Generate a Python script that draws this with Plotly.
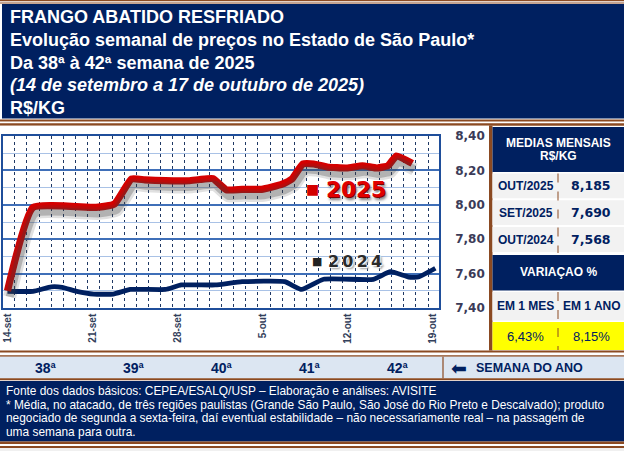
import plotly.graph_objects as go

W, H = 624, 451

# --- data ---
DAYS_2025 = [0, 2.1, 7.3, 8.8, 10.2, 11.3, 13, 14.9, 15.8, 16.9, 18.0, 19.3, 20.9,
             22.6, 23.4, 24.3, 25.2, 26.3, 27.9, 29.2, 30.4, 31.3, 32.0, 33.3]
PRICE_2025 = [7.50, 7.985, 7.985, 8.005, 8.15, 8.145, 8.14, 8.14, 8.147, 8.152, 8.087,
              8.09, 8.09, 8.12, 8.15, 8.237, 8.237, 8.22, 8.214, 8.227, 8.214, 8.227,
              8.284, 8.241]

DAYS_2024 = [0, 2.1, 3.6, 4.5, 5.7, 7.1, 8.7, 10.1, 13, 14.3, 17.1, 19.3, 22.8, 24.2,
             26.0, 30.1, 31.5, 33.0, 33.8, 35.2]
PRICE_2024 = [7.497, 7.497, 7.523, 7.52, 7.497, 7.481, 7.481, 7.508, 7.508, 7.534,
              7.534, 7.553, 7.553, 7.508, 7.567, 7.567, 7.611, 7.58, 7.58, 7.631]

DATE_TICKS = [0, 7, 14, 21, 28, 35]
DATE_LABELS = ["14-set", "21-set", "28-set", "5-out", "12-out", "19-out"]

WEEKS = [38, 39, 40, 41, 42]

MONTH_LABELS = ["OUT/2025", "SET/2025", "OUT/2024"]
MONTH_AVG = [8.185, 7.690, 7.568]
VAR_LABELS = ["EM 1 MES", "EM 1 ANO"]
VAR_PCT = [6.43, 8.15]

HEADER = [
    "<b>FRANGO ABATIDO RESFRIADO</b>",
    "<b>Evolução semanal de preços no Estado de São Paulo*</b>",
    "<b>Da 38ª à 42ª semana de 2025</b>",
    "<b><i>(14 de setembro a 17 de outubro de 2025)</i></b>",
    "<b>R$/KG</b>",
]
FOOTER = [
    "Fonte dos dados básicos: CEPEA/ESALQ/USP – Elaboração e análises: AVISITE",
    "* Média, no atacado, de três regiões paulistas (Grande São Paulo, São José do Rio Preto e Descalvado); produto",
    "negociado de segunda a sexta-feira, daí eventual estabilidade – não necessariamente real – na passagem de",
    "uma semana para outra.",
]

NAVY = "#002060"
BROWN = "#8B4A22"
GRAY_CELL = "#F2F2F2"
BAND = "#DCE6F2"
RED = "#D40000"
ARIAL = "Liberation Sans, Arial, sans-serif"
VERD = "DejaVu Sans, Verdana, sans-serif"

XR = [-0.37, 35.5]
YR = [7.40, 8.40]
SX, SY = 0.18, 0.035  # shadow offset (axis shift)


def px(x):
    return x / W


def py(y):
    return 1 - y / H


fig = go.Figure()


def rect(x0, y0, x1, y1, color):
    fig.add_shape(type="rect", xref="paper", yref="paper",
                  x0=px(x0), x1=px(x1), y0=py(y1), y1=py(y0),
                  fillcolor=color, line_width=0, layer="below")


def vline(x, y0, y1, color, width=1, dash="solid"):
    fig.add_shape(type="line", xref="paper", yref="paper",
                  x0=px(x), x1=px(x), y0=py(y0), y1=py(y1),
                  line=dict(color=color, width=width, dash=dash))


def text(x, y, s, size, color, family=ARIAL, anchor="center", shadow=None):
    font = dict(size=size, color=color, family=family)
    if shadow:
        font["shadow"] = shadow
    fig.add_annotation(x=px(x), y=py(y), xref="paper", yref="paper", text=s,
                       showarrow=False, xanchor=anchor, yanchor="middle",
                       font=font)


# --- frame pieces ---
rect(0, 0, W, 1.2, BROWN)
rect(0, 2.4, W, 3.6, BROWN)
rect(2, 4, W, 118.5, NAVY)
rect(0, 119.5, W, 121.5, BROWN)
rect(0, 123.2, W, 125.7, BROWN)
rect(0, 125.7, 489, 350.5, "white")

# right table
rect(489, 125.7, 492.5, 350.5, BROWN)
rect(492.5, 127, W, 172, NAVY)
for i in range(3):
    rect(492.5, 173.5 + i * 26.8, W, 172 + (i + 1) * 26.8 - 0.5, GRAY_CELL)
rect(492.5, 255, W, 290.5, NAVY)
rect(492.5, 292, W, 320.5, GRAY_CELL)
rect(492.5, 322, W, 350, "#FFFF00")
vline(558, 173.5, 253, BROWN, 1, "dash")
vline(558, 292, 350, BROWN, 1, "dash")

# lower band and footer
rect(0, 350.5, W, 352.5, BROWN)
rect(0, 355.3, W, 356.8, BROWN)
rect(0, 356.8, W, 378.3, BAND)
rect(0, 378.3, W, 380.3, BROWN)
rect(0, 381, W, 441.5, NAVY)
rect(0, 441.5, W, 444, BROWN)
rect(0, 446, W, 448, BROWN)
rect(0, 448, W, H, "#F0F0F0")
vline(443, 356.8, 378.3, BROWN, 1.2)

# --- header text ---
for i, line in enumerate(HEADER):
    text(8, 17 + i * 22.8, line, 18, "white", anchor="left")

# --- table text ---
text(558, 143, "<b>MEDIAS MENSAIS</b>", 12, "white")
text(558, 156, "<b>R$/KG</b>", 12, "white")
for i, (lab, val) in enumerate(zip(MONTH_LABELS, MONTH_AVG)):
    yc = 186 + i * 26.8
    text(525.5, yc, f"<b>{lab}</b>", 12, NAVY)
    text(591, yc, f"<b>{val:.3f}</b>".replace(".", ","), 12.5, NAVY, family=VERD)
text(558, 272, "<b>VARIAÇAO %</b>", 12, "white")
for i, (lab, val) in enumerate(zip(VAR_LABELS, VAR_PCT)):
    xc = 525.5 + i * 66
    text(xc, 306, f"<b>{lab}</b>", 12, NAVY)
    text(xc, 336, f"{val:.2f}%".replace(".", ","), 13, NAVY)

# --- week band ---
for i, wk in enumerate(WEEKS):
    text(46 + i * 88, 368, f"<b>{wk}ª</b>", 14, NAVY)
text(449, 367.5, "⬅", 19, NAVY, family=VERD, anchor="left")
text(474, 368, "<b>SEMANA DO ANO</b>", 12.5, NAVY, anchor="left")

# --- footer ---
for i, line in enumerate(FOOTER):
    text(4, 391 + i * 13.6, line, 11.9, "white", anchor="left")

# --- chart lines ---
fig.add_trace(go.Scatter(x=DAYS_2025, y=PRICE_2025, xaxis="x2", yaxis="y2", mode="lines",
                         line=dict(color="rgba(60,60,60,0.16)", width=13, shape="spline", smoothing=0.4),
                         hoverinfo="skip", showlegend=False))
fig.add_trace(go.Scatter(x=DAYS_2025, y=PRICE_2025, xaxis="x2", yaxis="y2", mode="lines",
                         line=dict(color="rgba(60,60,60,0.28)", width=8, shape="spline", smoothing=0.4),
                         hoverinfo="skip", showlegend=False))
fig.add_trace(go.Scatter(x=DAYS_2024, y=PRICE_2024, mode="lines", name="2024",
                         line=dict(color=NAVY, width=4.8, shape="spline", smoothing=0.4),
                         showlegend=False))
fig.add_trace(go.Scatter(x=DAYS_2025, y=PRICE_2025, mode="lines", name="2025",
                         line=dict(color=RED, width=7.2, shape="spline", smoothing=0.4),
                         showlegend=False))

# series labels
text(312.5, 189, "■", 14, RED, family=VERD)
text(355.5, 189, "<b>2025</b>", 21.5, "#E00000", family=VERD,
     shadow="1px 1px 0 #7a0000, -1px -1px 0 #ffffff, 2px 3px 3px #777777")
text(317, 261, "■", 11, "#222222", family=VERD)
text(354.5, 261, "<b>2\u20090\u20092\u20094</b>", 16, "#2b2b2b", family=VERD,
     shadow="1px 1px 1px #ffffff, 2px 2px 2px #999999")

fig.update_layout(
    width=W, height=H,
    margin=dict(l=0, r=0, t=0, b=0),
    paper_bgcolor="white", plot_bgcolor="white",
    separators=",.",
    showlegend=False,
    xaxis=dict(domain=[px(3), px(439)], range=XR, tickvals=DATE_TICKS, ticktext=DATE_LABELS,
               tickangle=-90, showgrid=False, zeroline=False, ticks="",
               tickfont=dict(family=ARIAL, size=10, color="#33405A", weight="bold"),
               showline=True, mirror=True, linecolor="#1F4E9A", linewidth=1.5,
               minor=dict(tick0=0.6, dtick=1, showgrid=True, gridcolor="#1F3864",
                          gridwidth=1, griddash="dot"),
               automargin=False, fixedrange=True),
    yaxis=dict(domain=[py(308), py(136)], range=YR, side="right", tick0=7.4, dtick=0.2,
               tickformat=".2f", showgrid=True, gridcolor="#3F6FB8", gridwidth=1.5,
               zeroline=False, ticks="", ticklabelstandoff=12,
               tickfont=dict(family=VERD, size=12, color="#3B3B58", weight="bold"),
               showline=True, mirror=True, linecolor="#1F4E9A", linewidth=1.5,
               minor=dict(dtick=0.1, showgrid=True, gridcolor="#A9C2E6", gridwidth=1),
               automargin=False, fixedrange=True),
    xaxis2=dict(overlaying="x", range=[XR[0] - SX, XR[1] - SX], visible=False),
    yaxis2=dict(overlaying="y", range=[YR[0] + SY, YR[1] + SY], visible=False),
)

fig.write_html("out.html", config={"displayModeBar": False},
               post_script="document.body.style.margin='0';")
